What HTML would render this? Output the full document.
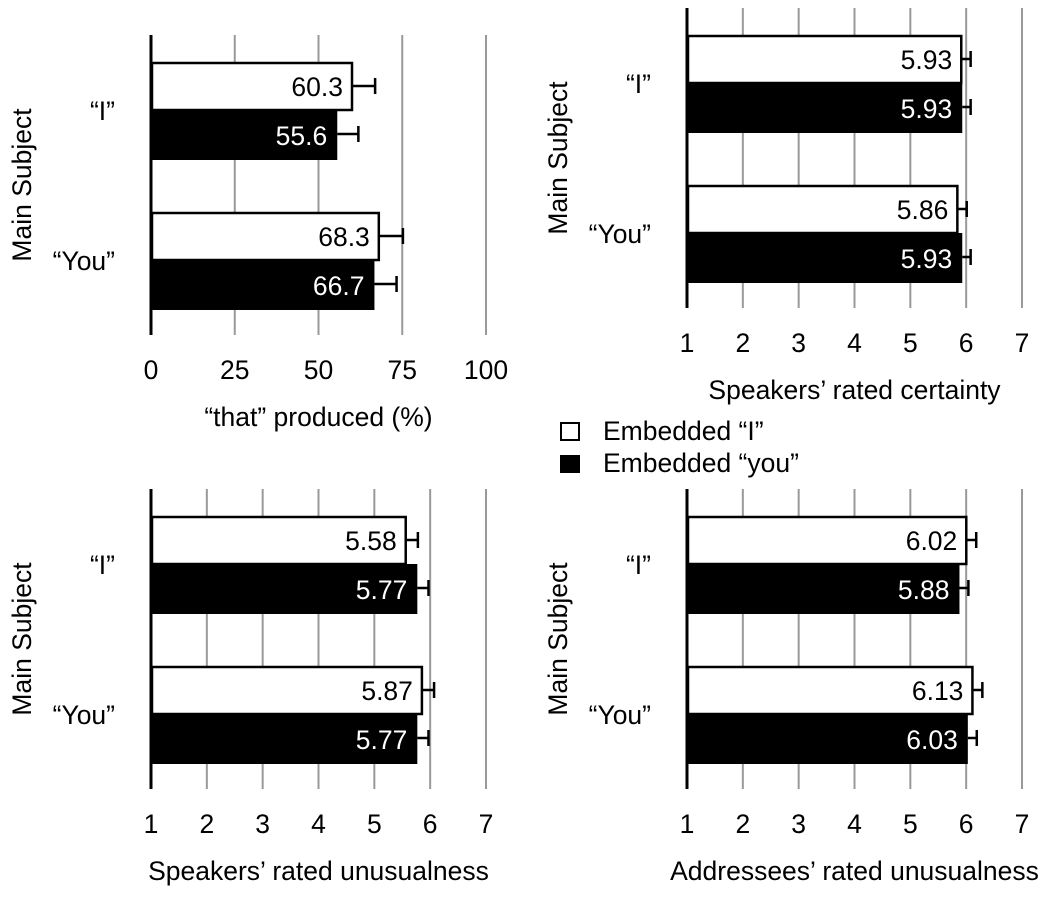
<!DOCTYPE html>
<html><head><meta charset="utf-8"><style>
html,body{margin:0;padding:0;background:#fff;}
svg{display:block;font-family:"Liberation Sans",Arial,sans-serif;}
</style></head><body>
<svg id="c" width="1050" height="898" viewBox="0 0 1050 898" xmlns="http://www.w3.org/2000/svg">
<g>
<rect x="561" y="423" width="18" height="17" fill="#fff" stroke="#000" stroke-width="2"/>
<text x="603" y="440" font-size="26.5">Embedded “I”</text>
<rect x="560" y="455" width="20" height="18" fill="#000"/>
<text x="603" y="472" font-size="26.5">Embedded “you”</text>
</g>
</svg>
<script>
const groups = ["“I”", "“You”"];
const thatWhite = [60.3, 68.3], thatBlack = [55.6, 66.7];
const thatErrW = [6.6, 6.9], thatErrB = [6.3, 6.6];
const certWhite = [5.93, 5.86], certBlack = [5.93, 5.93];
const certErrW = [0.15, 0.15], certErrB = [0.15, 0.15];
const spkWhite = [5.58, 5.87], spkBlack = [5.77, 5.77];
const spkErrW = [0.2, 0.2], spkErrB = [0.2, 0.2];
const addWhite = [6.02, 6.13], addBlack = [5.88, 6.03];
const addErrW = [0.16, 0.16], addErrB = [0.16, 0.16];
const pctTicks = [0, 25, 50, 75, 100];
const rateTicks = [1, 2, 3, 4, 5, 6, 7];

const NS = "http://www.w3.org/2000/svg";
const FS = 26.5;
const svg = document.getElementById('c');
function mk(tag, attrs, parent){const e=document.createElementNS(NS,tag);for(const k in attrs)e.setAttribute(k,attrs[k]);parent.appendChild(e);return e;}

function panel(opt){
  const g = mk('g',{},svg);
  
  
  const x0=opt.x0, x1=opt.x0+335;
  const top = opt.barTop - 27, bottom = opt.barTop + 273;
  const sx = v => x0 + (v - opt.ticks[0])/(opt.ticks[opt.ticks.length-1]-opt.ticks[0])*(x1-x0);
  opt.ticks.forEach((t,i)=>{ if(i===0) return;
    const l=mk('line',{x1:sx(t),x2:sx(t),y1:top,y2:bottom,stroke:'#999','stroke-width':2},g);
    
    
  });
  const bh=48;
  groups.forEach((grp,i)=>{
    const yw = opt.barTop + i*150;
    const yb = yw + bh;
    const wv=opt.white[i], bv=opt.black[i];
    [[wv,opt.errW[i],yw],[bv,opt.errB[i],yb]].forEach(([v,e,y])=>{
      const cy=y+bh/2, ex=sx(v+e);
      const el=mk('path',{d:`M${sx(v)},${cy}H${ex}M${ex},${cy-8}V${cy+8}`,stroke:'#000','stroke-width':2.5,fill:'none'},g);
      
      
    });
    const rw=mk('rect',{x:x0+1,y:yw+1,width:sx(wv)-x0-2,height:bh-1,fill:'#fff',stroke:'#000','stroke-width':2.5},g);
    
    
    const rb=mk('rect',{x:x0,y:yb,width:sx(bv)-x0,height:bh+2,fill:'#000'},g);
    
    
    const tw=mk('text',{x:sx(wv)-10,y:yw+bh/2+10,'font-size':FS,'text-anchor':'end',fill:'#000'},g);
    tw.textContent=String(wv);
    
    
    const tb=mk('text',{x:sx(bv)-10,y:yb+bh/2+11,'font-size':FS,'text-anchor':'end',fill:'#fff'},g);
    tb.textContent=String(bv);
    
    
    const gl=mk('text',{x:x0-36,y:yb+10,'font-size':FS,'text-anchor':'end'},g);
    gl.textContent=grp;
    
    
  });
  const ax=mk('line',{x1:x0,x2:x0,y1:top,y2:bottom,stroke:'#000','stroke-width':3},g);
  
  
  opt.ticks.forEach(t=>{
    const tl=mk('text',{x:sx(t),y:bottom+44,'font-size':FS,'text-anchor':'middle'},g);
    tl.textContent=String(t);
    
    
  });
  const xt=mk('text',{x:(x0+x1)/2,y:bottom+91,'font-size':FS,'text-anchor':'middle'},g);
  xt.textContent=opt.title;
  
  
  const cy=(opt.barTop+opt.barTop+150+2*bh)/2;
  const yt=mk('text',{x:0,y:0,'font-size':FS,'text-anchor':'middle',transform:`translate(${x0-120},${cy}) rotate(-90)`},g);
  yt.textContent='Main Subject';
  
  
}
panel({name:'panel-that-produced',x0:151,ticks:pctTicks,white:thatWhite,black:thatBlack,errW:thatErrW,errB:thatErrB,barTop:62,title:'“that” produced (%)'});
panel({name:'panel-speakers-certainty',x0:687,ticks:rateTicks,white:certWhite,black:certBlack,errW:certErrW,errB:certErrB,barTop:35,title:'Speakers’ rated certainty'});
panel({name:'panel-speakers-unusualness',x0:151,ticks:rateTicks,white:spkWhite,black:spkBlack,errW:spkErrW,errB:spkErrB,barTop:516,title:'Speakers’ rated unusualness'});
panel({name:'panel-addressees-unusualness',x0:687,ticks:rateTicks,white:addWhite,black:addBlack,errW:addErrW,errB:addErrB,barTop:516,title:'Addressees’ rated unusualness'});
</script>
</body></html>
